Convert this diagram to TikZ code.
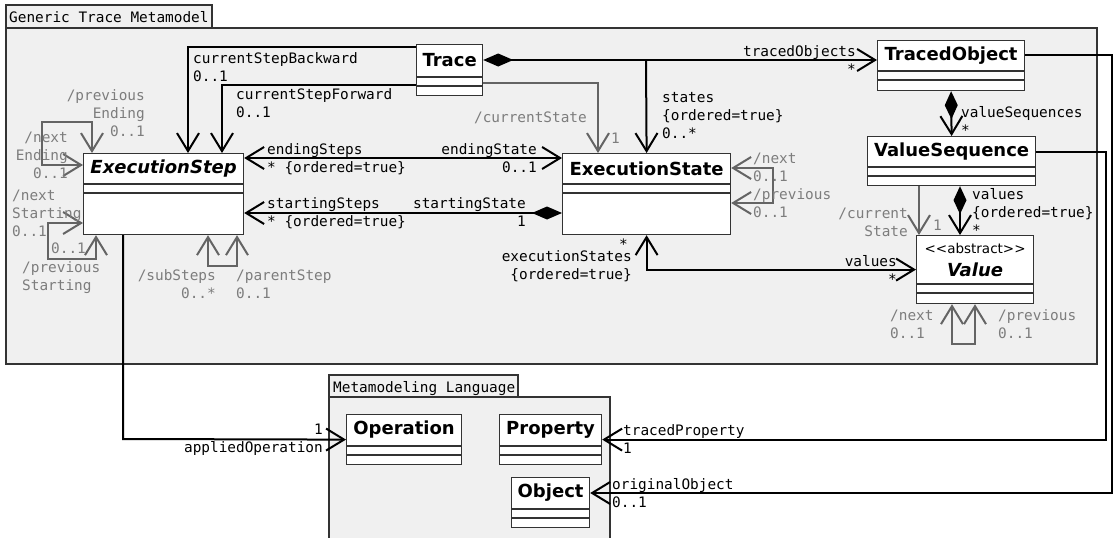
\documentclass[tikz,border=0pt]{standalone}
\usepackage{fontspec}
\setmainfont{DejaVu Sans}
\setmonofont{DejaVu Sans Mono}
\newfontfamily\stereofont{DejaVu Sans}
\usetikzlibrary{arrows.meta,calc}
\definecolor{PkgClr}{RGB}{240,240,240}
\definecolor{BorderClr}{RGB}{51,51,51}
\definecolor{DerivedClr}{RGB}{100,100,100}
\definecolor{DerivedTxt}{RGB}{125,125,125}

\newcommand\UmlClass[7]{%
\node[ClassBox,minimum width=#4pt,minimum height=#5pt,anchor=north west] (#1) at (#2,#3) {};
\draw[ClassLine] ($(#1.north west)+(0,#6)$) -- ++(#4,0) ($(#1.north west)+(0,#6+9)$) -- ++(#4,0);
\node[ClassName] (#1-name) at ($(#1.north)+(0,#6/2)$) {#7};}

\begin{document}
\begin{tikzpicture}[x=1pt,y=-1pt,
  >={Straight Barb[length=18pt,width=22pt]},
  ClassBox/.style={draw=BorderClr,fill=white,line width=1.2pt,inner sep=0pt},
  ClassLine/.style={draw=BorderClr,line width=1.2pt},
  ClassName/.style={font=\fontsize{18}{23}\selectfont\bfseries,inner sep=0pt,align=center},
  Pkg/.style={draw=BorderClr,fill=PkgClr,line width=1.2pt},
  Assoc/.style={line width=2pt,black},
  Derived/.style={line width=2pt,DerivedClr},
  Lbl/.style={font=\ttfamily\fontsize{14.4}{18}\selectfont,inner sep=0pt},
  DLbl/.style={Lbl,text=DerivedTxt}]
\useasboundingbox (0,0) rectangle (1114,538);

\draw[Pkg] (6,5) rectangle (212,28);
\draw[Pkg] (6,28) rectangle (1097,364);
\node[Lbl,anchor=base west] (pkgTrace) at (9,22) {Generic Trace Metamodel};
\draw[Pkg] (329,375) rectangle (518,397);
\draw[Pkg] (329,397) rectangle (610,560);
\node[Lbl,anchor=base west] (pkgLang) at (333,392) {Metamodeling Language};

\coordinate (bwBend) at (188,47);
\coordinate (fwBend) at (222,85);
\coordinate (junc) at (646,60);
\coordinate (csBend) at (598,83);
\coordinate (endY) at (400,158);
\coordinate (startY) at (400,213);
\coordinate (esLoopA) at (773,168);
\coordinate (esLoopB) at (773,203);
\coordinate (endLoopA) at (92,122);
\coordinate (endLoopB) at (42,165);
\coordinate (stLoopA) at (48,223);
\coordinate (stLoopB) at (96,259);
\coordinate (subA) at (208,266);
\coordinate (subB) at (237,266);
\coordinate (opBend) at (123,439);
\coordinate (vsA) at (960,200);
\coordinate (vsB) at (919,200);
\coordinate (vLoopA) at (952,344);
\coordinate (vLoopB) at (975,344);
\coordinate (propBend) at (1106,152);
\coordinate (objBend) at (1112,55);
\coordinate (objLow) at (1112,493);

\UmlClass{Trace}{416}{44}{66}{51}{33}{Trace}
\UmlClass{ExecStep}{83}{153}{160}{81}{31}{\textit{ExecutionStep}}
\UmlClass{ExecState}{562}{153}{168}{81}{31}{ExecutionState}
\UmlClass{TracedObj}{877}{40}{147}{50}{31}{TracedObject}
\UmlClass{ValueSeq}{867}{136}{168}{49}{31}{ValueSequence}
\UmlClass{Value}{916}{235}{117}{68}{49}{{\stereofont\mdseries\fontsize{13.5}{16}\selectfont<<abstract>>}\\\textit{Value}}
\UmlClass{Operation}{346}{414}{115}{50}{32}{Operation}
\UmlClass{Property}{499}{414}{102}{50}{32}{Property}
\UmlClass{Object}{511}{477}{78}{50}{32}{Object}

\draw[Assoc,->] (Trace.west |- bwBend) -| (ExecStep.north -| bwBend);
\draw[Assoc,->] (Trace.west |- fwBend) -| (ExecStep.north -| fwBend);
\draw[Assoc,{Diamond[length=30pt,width=13pt]}->] (Trace.east |- junc) -- (TracedObj.west |- junc);
\draw[Assoc,->] (junc) -- (ExecState.north);
\draw[Derived,->] (Trace.east |- csBend) -| (ExecState.north -| csBend);
\draw[Assoc,<->] (ExecStep.east |- endY) -- (ExecState.west |- endY);
\draw[Assoc,<-{Diamond[length=30pt,width=13pt]}] (ExecStep.east |- startY) -- (ExecState.west |- startY);
\draw[Derived,<->] (ExecState.east |- esLoopA) -- (esLoopA) -- (esLoopB) -- (ExecState.east |- esLoopB);
\draw[Derived,<->] (ExecStep.north -| endLoopA) -- (endLoopA) -| (endLoopB) -- (ExecStep.west |- endLoopB);
\draw[Derived,<->] (ExecStep.west |- stLoopA) -- (stLoopA) |- (stLoopB) -- (ExecStep.south -| stLoopB);
\draw[Derived,<->] (ExecStep.south -| subA) -- (subA) -- (subB) -- (ExecStep.south -| subB);
\draw[Assoc,->] (ExecStep.south -| opBend) -- (opBend) -- (Operation.west);
\draw[Assoc,<->] (ExecState.south) |- (Value.west);
\draw[Assoc,{Diamond[length=28pt,width=13pt]}->] (TracedObj.south) -- (ValueSeq.north);
\draw[Assoc,{Diamond[length=28pt,width=13pt]}->] (ValueSeq.south -| vsA) -- (Value.north -| vsA);
\draw[Derived,->] (ValueSeq.south -| vsB) -- (Value.north -| vsB);
\draw[Derived,<->] (Value.south -| vLoopA) -- (vLoopA) -- (vLoopB) -- (Value.south -| vLoopB);
\draw[Assoc,->] (ValueSeq.east |- propBend) -- (propBend) |- (Property.east);
\draw[Assoc,->] (TracedObj.east |- objBend) -- (objBend) -- (objLow) -- (Object.east |- objLow);

\node[Lbl,anchor=base west,align=left] (lBackward) at (193,81) {currentStepBackward\\0..1};
\node[Lbl,anchor=base west,align=left] (lForward) at (236,117) {currentStepForward\\0..1};
\node[DLbl,anchor=base east,align=right] (lPrevEnd) at (145,136) {/previous\\Ending\\0..1};
\node[DLbl,anchor=base east,align=right] (lNextEnd) at (68,178) {/next\\Ending\\0..1};
\node[DLbl,anchor=base west,align=left] (lNextStart) at (12,236) {/next\\Starting\\0..1};
\node[DLbl,anchor=base west] (lPrevStartM) at (51,253) {0..1};
\node[DLbl,anchor=base west,align=left] (lPrevStart) at (22,290) {/previous\\Starting};
\node[DLbl,anchor=base east,align=right] (lSubSteps) at (216,298) {/subSteps\\0..*};
\node[DLbl,anchor=base west,align=left] (lParent) at (236,298) {/parentStep\\0..1};
\node[Lbl,anchor=base west,align=left] (lEndSteps) at (267,172) {endingSteps\\* \{ordered=true\}};
\node[Lbl,anchor=base east,align=right] (lEndState) at (537,172) {endingState\\0..1};
\node[Lbl,anchor=base west,align=left] (lStartSteps) at (267,226) {startingSteps\\* \{ordered=true\}};
\node[Lbl,anchor=base east,align=right] (lStartState) at (526,226) {startingState\\1};
\node[DLbl,anchor=base east] (lCurState) at (587,122) {/currentState};
\node[DLbl,anchor=base west] (lCurStateM) at (611,143) {1};
\node[Lbl,anchor=base west,align=left] (lStates) at (662,138) {states\\\{ordered=true\}\\0..*};
\node[Lbl,anchor=base east,align=right] (lTracedObjs) at (856,74) {tracedObjects\\*};
\node[DLbl,anchor=base west,align=left] (lStateLoop) at (753,217) {/next\\0..1\\/previous\\0..1};
\node[Lbl,anchor=base east] (lExecStatesM) at (628,249) {*};
\node[Lbl,anchor=base east,align=right] (lExecStates) at (632,279) {executionStates\\\{ordered=true\}};
\node[Lbl,anchor=base west,align=left] (lValueSeqs) at (961,135) {valueSequences\\*};
\node[Lbl,anchor=base west,align=left] (lValues) at (972,235) {values\\\{ordered=true\}\\*};
\node[DLbl,anchor=base east,align=right] (lValCur) at (908,236) {/current\\State};
\node[DLbl,anchor=base west] (lValCurM) at (933,230) {1};
\node[Lbl,anchor=base east,align=right] (lValuesIn) at (897,284) {values\\*};
\node[DLbl,anchor=base west,align=left] (lValNext) at (890,338) {/next\\0..1};
\node[DLbl,anchor=base west,align=left] (lValPrev) at (998,338) {/previous\\0..1};
\node[Lbl,anchor=base east,align=right] (lApplied) at (323,452) {1\\appliedOperation};
\node[Lbl,anchor=base west,align=left] (lTracedProp) at (623,453) {tracedProperty\\1};
\node[Lbl,anchor=base west,align=left] (lOrigObj) at (612,507) {originalObject\\0..1};

\end{tikzpicture}
\end{document}
